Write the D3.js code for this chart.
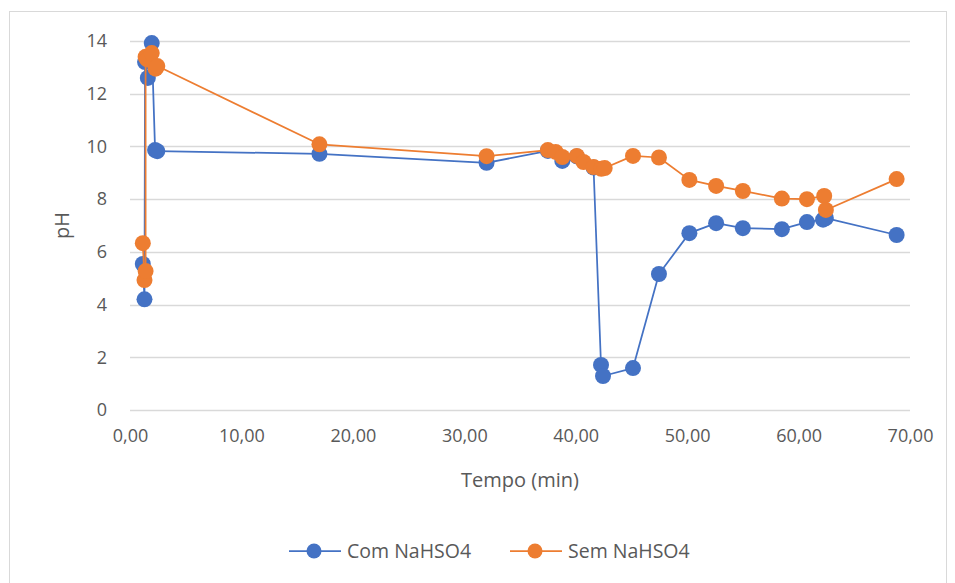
<!DOCTYPE html>
<html>
<head>
<meta charset="utf-8">
<script src="https://cdn.jsdelivr.net/npm/d3@7"></script>
<style>
  html, body { margin: 0; padding: 0; background: #fff; }
  svg { display: block; font-family: "Open Sans", "Noto Sans", sans-serif; }
</style>
</head>
<body>
<svg id="chart" width="955" height="583"></svg>
<script>
// pH over time, with and without sodium bisulfate
const seriesNames = ["Com NaHSO4", "Sem NaHSO4"];
const seriesColors = ["#4472C4", "#ED7D31"];

// Com NaHSO4: time (min) and pH
const comTempo = [1.15, 1.3, 1.35, 1.6, 1.95, 2.25, 2.45, 17.0, 32.0, 37.5, 38.8, 40.1, 41.6,
                  42.27, 42.45, 45.14, 47.47, 50.2, 52.6, 55.0, 58.5, 60.75, 62.2, 62.45, 68.8];
const comPH    = [5.54, 4.2, 13.2, 12.6, 13.92, 9.86, 9.82, 9.72, 9.38, 9.83, 9.45, 9.62, 9.2,
                  1.71, 1.29, 1.59, 5.16, 6.71, 7.09, 6.9, 6.86, 7.13, 7.22, 7.28, 6.64];

// Sem NaHSO4: time (min) and pH
const semTempo = [1.15, 1.3, 1.4, 1.4, 1.55, 1.95, 2.3, 2.45, 17.0, 32.0, 37.5, 38.2, 38.8, 40.1,
                  40.7, 41.6, 42.3, 42.6, 45.14, 47.47, 50.2, 52.6, 55.0, 58.5, 60.75, 62.3, 62.45, 68.8];
const semPH    = [6.33, 4.93, 5.27, 13.4, 13.3, 13.54, 12.95, 13.05, 10.08, 9.63, 9.86, 9.79, 9.6, 9.64,
                  9.41, 9.22, 9.15, 9.18, 9.64, 9.58, 8.73, 8.5, 8.31, 8.02, 8.0, 8.12, 7.59, 8.76];

const xTicks = [0, 10, 20, 30, 40, 50, 60, 70];
const yTicks = [0, 2, 4, 6, 8, 10, 12, 14];
const xTitle = "Tempo (min)";
const yTitle = "pH";

const series = [
  { name: seriesNames[0], color: seriesColors[0], points: comTempo.map((t, i) => [t, comPH[i]]) },
  { name: seriesNames[1], color: seriesColors[1], points: semTempo.map((t, i) => [t, semPH[i]]) }
];

const svg = d3.select("#chart");
const textColor = "#595959";

// outer chart frame
svg.append("rect")
  .attr("x", 9.5).attr("y", 11.5)
  .attr("width", 937).attr("height", 600)
  .attr("fill", "#fff").attr("stroke", "#d9d9d9").attr("stroke-width", 1);

const plot = { left: 130, right: 910, top: 41, bottom: 410 };

const x = d3.scaleLinear().domain([0, 70]).range([plot.left, plot.right]);
const y = d3.scaleLinear().domain([0, 14]).range([plot.bottom, plot.top]);

// horizontal gridlines
svg.append("g")
  .selectAll("line")
  .data(yTicks)
  .join("line")
  .attr("x1", plot.left).attr("x2", plot.right)
  .attr("y1", d => Math.round(y(d)) + 0.5).attr("y2", d => Math.round(y(d)) + 0.5)
  .attr("stroke", "#d9d9d9").attr("stroke-width", 1.3);

// y axis labels
const yAxis = d3.axisLeft(y).tickValues(yTicks).tickSize(0).tickPadding(0).tickFormat(d3.format("d"));
const gy = svg.append("g").attr("transform", `translate(${plot.left - 23},0)`).call(yAxis);
gy.select(".domain").remove();
gy.selectAll("text")
  .attr("fill", textColor).attr("font-size", 18).attr("font-family", "'Open Sans', sans-serif");

// x axis labels
const fmtX = d => d3.format(".2f")(d).replace(".", ",");
const xAxis = d3.axisBottom(x).tickValues(xTicks).tickSize(0).tickPadding(0).tickFormat(fmtX);
const gx = svg.append("g").attr("transform", `translate(0,${plot.bottom + 19})`).call(xAxis);
gx.select(".domain").remove();
gx.selectAll("text")
  .attr("fill", textColor).attr("font-size", 18).attr("font-family", "'Open Sans', sans-serif");

// axis titles
svg.append("text")
  .attr("x", (plot.left + plot.right) / 2).attr("y", 487)
  .attr("text-anchor", "middle")
  .attr("fill", textColor).attr("font-size", 20)
  .text(xTitle);

svg.append("text")
  .attr("transform", `translate(69,${(plot.top + plot.bottom) / 2}) rotate(-90)`)
  .attr("text-anchor", "middle")
  .attr("fill", textColor).attr("font-size", 20)
  .text(yTitle);

// series lines and markers
const line = d3.line().x(d => x(d[0])).y(d => y(d[1]));

series.forEach(s => {
  const g = svg.append("g");
  g.append("path")
    .datum(s.points)
    .attr("d", line)
    .attr("fill", "none")
    .attr("stroke", s.color)
    .attr("stroke-width", 1.75)
    .attr("stroke-linejoin", "round");
  g.selectAll("circle")
    .data(s.points)
    .join("circle")
    .attr("cx", d => x(d[0]))
    .attr("cy", d => y(d[1]))
    .attr("r", 8)
    .attr("fill", s.color);
});

// legend
const legendItems = [
  { x0: 289, tx: 347 },
  { x0: 510, tx: 568 }
];
const legendY = 551;
series.forEach((s, i) => {
  const L = legendItems[i];
  const g = svg.append("g");
  g.append("line")
    .attr("x1", L.x0).attr("x2", L.x0 + 52)
    .attr("y1", legendY).attr("y2", legendY)
    .attr("stroke", s.color).attr("stroke-width", 1.75);
  g.append("circle")
    .attr("cx", L.x0 + 25).attr("cy", legendY).attr("r", 7.5)
    .attr("fill", s.color);
  g.append("text")
    .attr("x", L.tx).attr("y", legendY)
    .attr("dy", "0.35em")
    .attr("fill", textColor).attr("font-size", 19.5)
    .text(s.name);
});
</script>
</body>
</html>
